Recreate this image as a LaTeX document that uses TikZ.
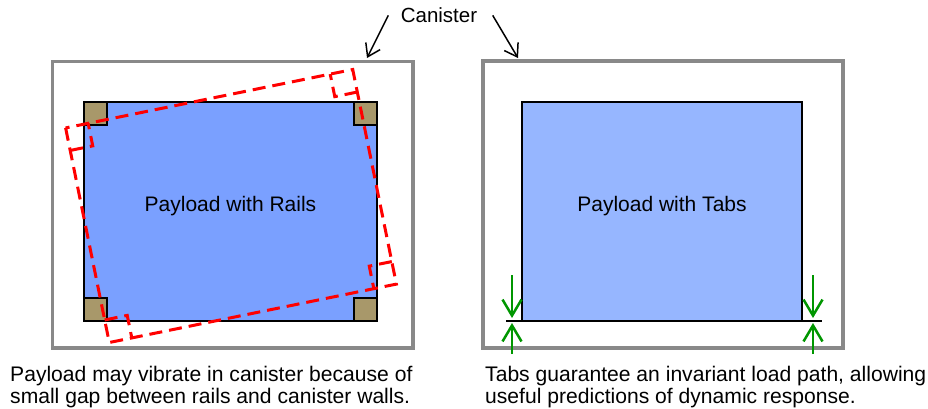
\documentclass[tikz,border=0pt]{standalone}
\usepackage{fontspec}
\setmainfont{Liberation Sans}
\usetikzlibrary{arrows.meta,positioning}

\definecolor{canistergray}{RGB}{137,137,137}
\definecolor{railsblue}{RGB}{122,160,255}
\definecolor{tabsblue}{RGB}{150,182,255}
\definecolor{railbrown}{RGB}{168,152,106}
\definecolor{tabgreen}{RGB}{0,150,0}

\begin{document}
\begin{tikzpicture}[x=1pt,y=-1pt,font=\fontsize{21}{21.5}\selectfont]
	  \tikzstyle{canister}=[draw=canistergray,line width=3.5pt,inner sep=0pt,outer sep=0pt]
	  \tikzstyle{payload}=[draw=black,line width=2.5pt,inner sep=0pt,outer sep=0pt,minimum height=219pt]
	  \tikzstyle{rail}=[draw=black,fill=railbrown,line width=2.5pt,inner sep=0pt,outer sep=0pt,minimum size=23pt]
	  \tikzstyle{shifted}=[draw=red,line width=3pt,dash pattern=on 13pt off 7pt]
	  \tikzstyle{pointer}=[-{Straight Barb[length=12pt,width=16pt]},line width=1.5pt]
	  \tikzstyle{force}=[-{Straight Barb[length=16pt,width=19pt,line width=2.5pt]},draw=tabgreen,line width=2.5pt]
	  \tikzstyle{caption}=[anchor=base west,align=left,inner sep=0pt,font=\fontsize{21.1}{21.5}\selectfont]

	  \useasboundingbox (0,0) rectangle (928,408);

	  % canisters
	  \node[canister,minimum width=360.5pt,minimum height=286.5pt] (canL) at (232.75,204.75) {};
	  \node[canister,minimum width=360pt,minimum height=287pt]     (canR) at (663,204.5) {};

	  \node[anchor=base,font=\fontsize{20.5}{21.5}\selectfont] (lbl) at (439,22.7) {Canister};
	  \coordinate (tipL) at (367,58);
	  \coordinate (tipR) at (518,58);
	  \draw[pointer] ([xshift=-9pt]lbl.west) -- (tipL);
	  \draw[pointer] ([xshift=12pt]lbl.east) -- (tipR);

	  % payload with rails
	  \node[payload,fill=railsblue,minimum width=293pt] (payL) at (230.5,211.5) {};
	  \node[anchor=base] (txtL) at ([yshift=0.5pt]payL.center) {Payload with Rails};
	  \node[rail,anchor=north west] (railNW) at (payL.north west) {};
	  \node[rail,anchor=north east] (railNE) at (payL.north east) {};
	  \node[rail,anchor=south west] (railSW) at (payL.south west) {};
	  \node[rail,anchor=south east] (railSE) at (payL.south east) {};

	  % rattling position
	  \begin{scope}[shift={(231,206)},rotate=11.5,shifted]
	    \draw (-146.5,-109.5) rectangle (146.5,109.5);
	    \draw (-146.5,-86.5) -| (-123.5,-109.5);
	    \draw (146.5,-86.5) -| (123.5,-109.5);
	    \draw (-146.5,86.5) -| (-123.5,109.5);
	    \draw (146.5,86.5) -| (123.5,109.5);
	  \end{scope}

	  % payload with tabs
	  \node[payload,fill=tabsblue,minimum width=280pt] (payR) at (662,211.5) {};
	  \node[anchor=base] (txtR) at ([yshift=0.5pt]payR.center) {Payload with Tabs};
	  \draw[line width=2.5pt] (payR.south west) -- ([xshift=-16pt]payR.south west);
	  \draw[line width=2.5pt] (payR.south east) -- ([xshift=20pt]payR.south east);

	  \draw[force] ([xshift=-10pt,yshift=46pt]payR.south west) -- ([xshift=-10pt,yshift=3pt]payR.south west);
	  \draw[force] ([xshift=-10pt,yshift=-33pt]payR.south west) -- ([xshift=-10pt,yshift=-2pt]payR.south west);
	  \draw[force] ([xshift=11pt,yshift=46pt]payR.south east) -- ([xshift=11pt,yshift=3pt]payR.south east);
	  \draw[force] ([xshift=11pt,yshift=-33pt]payR.south east) -- ([xshift=11pt,yshift=-2pt]payR.south east);

	  % captions
	  \node[caption] (noteL) at (10,403) {Payload may vibrate in canister because of\\small gap between rails and canister walls.};
	  \node[caption] (noteR) at (485,403) {Tabs guarantee an invariant load path, allowing\\useful predictions of dynamic response.};
	\end{tikzpicture}
\end{document}
